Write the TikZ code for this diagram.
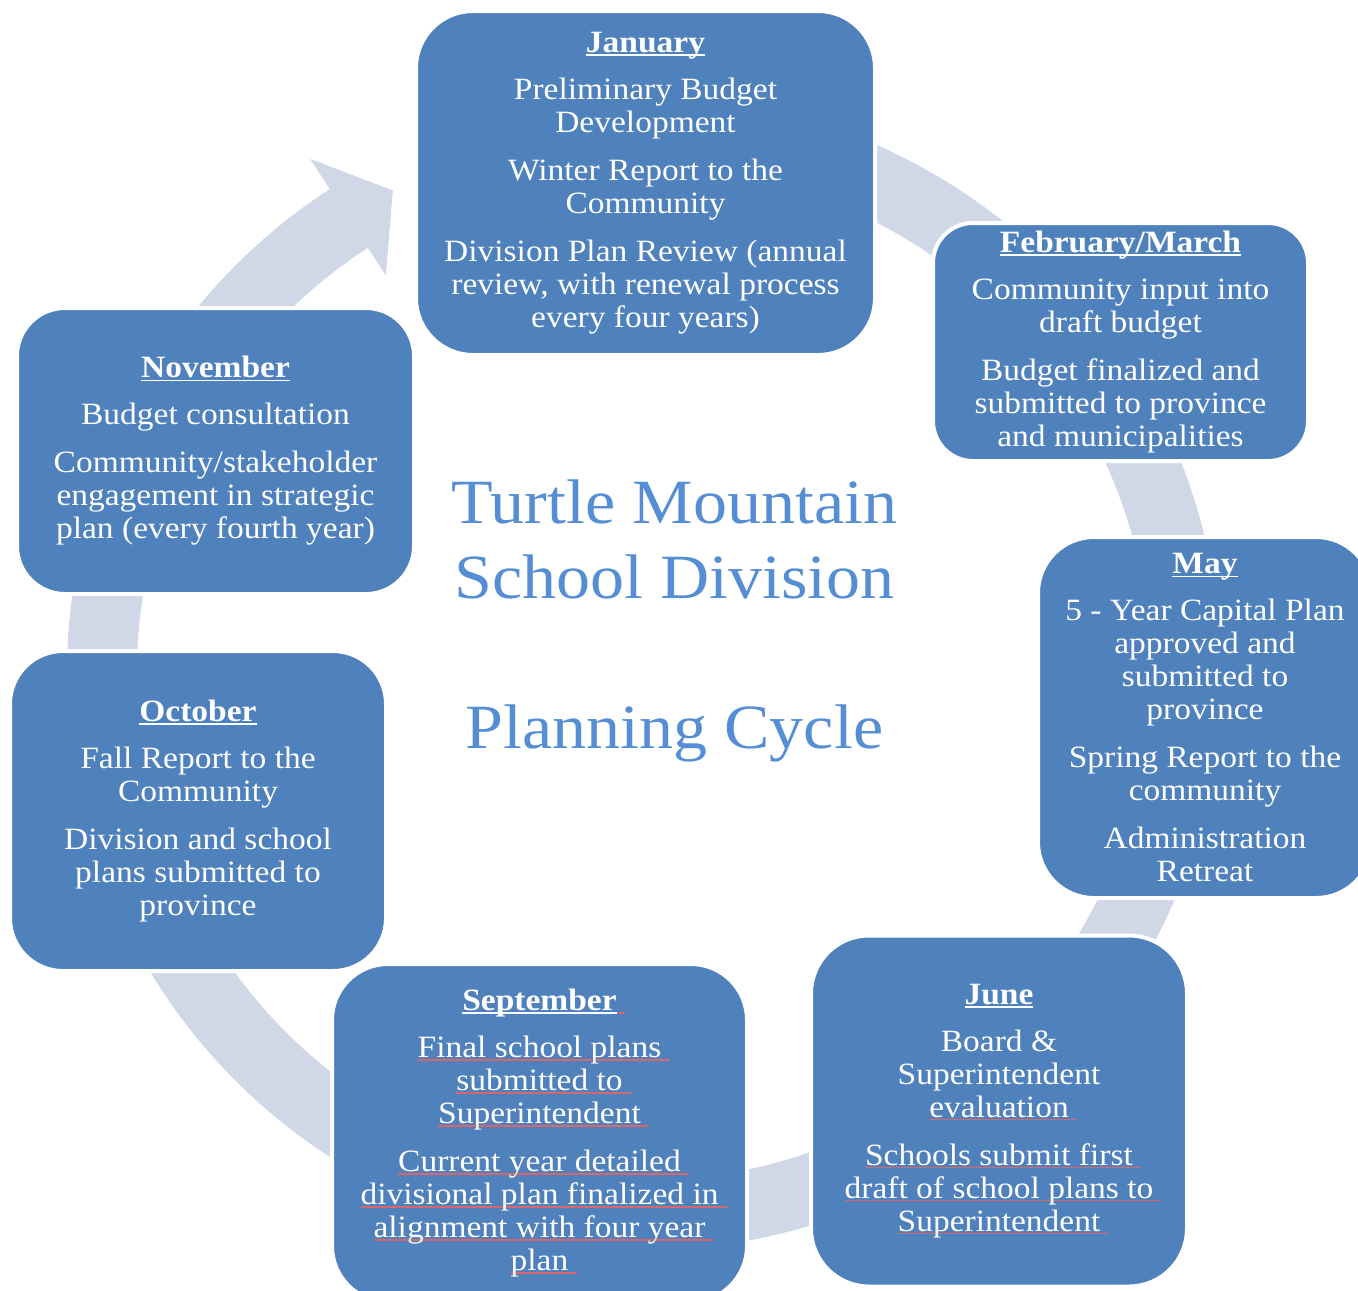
\documentclass[tikz,border=0pt]{standalone}
\usepackage{fontspec}
\setmainfont{Liberation Serif}[FakeStretch=1.08]
\usetikzlibrary{calc}
\definecolor{boxblue}{HTML}{4F81BD}
\definecolor{ringblue}{HTML}{D0D8E8}
\definecolor{titleblue}{HTML}{558ED5}
\newbox\mulbox
\newbox\sqbox
\newcommand\monthul[1]{\setbox\mulbox\hbox{\bfseries #1}\rlap{\rule[-3.5pt]{\wd\mulbox}{1.5pt}}\box\mulbox}
\makeatletter
\newcommand\spellsq[1]{\setbox\sqbox\hbox{#1\ }%
  \edef\sqw{\strip@pt\dimexpr 0.99626\wd\sqbox\relax}%
  \special{pdf:content 0.847 0.400 0.416 rg 0 -3.1 \sqw\space 1.2 re f}#1}
\makeatother
\begin{document}
\begin{tikzpicture}[x=1pt,y=-1pt,
  month/.style={draw=white, line width=4pt, fill=boxblue, text=white, align=center,
    inner sep=0pt, font=\fontsize{31}{33}\selectfont}]
\useasboundingbox (0,0) rectangle (1358,1291);
\coordinate (c) at (644,673);
% circular arrow behind the boxes
\fill[ringblue] ($(c)+(-105:577)$) arc[start angle=-105,end angle=237,radius=577]
  -- ($(c)+(237:613)$) -- ($(c)+(242.5:544)$) -- ($(c)+(237:474)$)
  -- ($(c)+(237:507)$) arc[start angle=237,end angle=-105,radius=507] -- cycle;
% boxes
\node[month, minimum width=459pt, minimum height=344pt, rounded corners=57pt] (jan) at (645.5,183)
  {\monthul{January}\\[14pt]Preliminary Budget\\Development\\[15pt]Winter Report to the\\Community\\[15pt]Division Plan Review (annual\\review, with renewal process\\every four years)};
\node[month, minimum width=375pt, minimum height=238pt, rounded corners=40pt] (feb) at (1120.5,342)
  {\monthul{February/March}\\[14pt]Community input into\\draft budget\\[15pt]Budget finalized and\\submitted to province\\and municipalities};
\node[month, minimum width=334pt, minimum height=361pt, rounded corners=56pt] (may) at (1205,717.5)
  {\monthul{May}\\[14pt]5 - Year Capital Plan\\approved and\\submitted to\\province\\[15pt]Spring Report to the\\community\\[15pt]Administration\\Retreat};
\node[month, minimum width=376pt, minimum height=351pt, rounded corners=58pt] (jun) at (999,1111)
  {\monthul{June}\\[14pt]Board \&\\Superintendent\\\spellsq{evaluation}\\[15pt]\spellsq{Schools submit first}\\\spellsq{draft of school plans to}\\\spellsq{Superintendent}};
\node[month, minimum width=415pt, minimum height=338pt, rounded corners=56pt] (sep) at (539.5,1133)
  {\spellsq{\monthul{September}}\\[14pt]\spellsq{Final school plans}\\\spellsq{submitted to}\\\spellsq{Superintendent}\\[15pt]\spellsq{Current year detailed}\\\spellsq{divisional plan finalized in}\\\spellsq{alignment with four year}\\\spellsq{plan}};
\node[month, minimum width=376pt, minimum height=320pt, rounded corners=53pt] (oct) at (198,811)
  {\monthul{October}\\[14pt]Fall Report to the\\Community\\[15pt]Division and school\\plans submitted to\\province};
\node[month, minimum width=397pt, minimum height=286pt, rounded corners=48pt] (nov) at (215.5,451)
  {\monthul{November}\\[14pt]Budget consultation\\[15pt]Community/stakeholder\\engagement in strategic\\plan (every fourth year)};
% title
\node[text=titleblue, align=center, inner sep=0pt, font=\fontsize{63}{75}\selectfont] (title) at (674.5,621)
  {Turtle Mountain\\School Division\\[75pt]Planning Cycle};
\end{tikzpicture}
\end{document}
